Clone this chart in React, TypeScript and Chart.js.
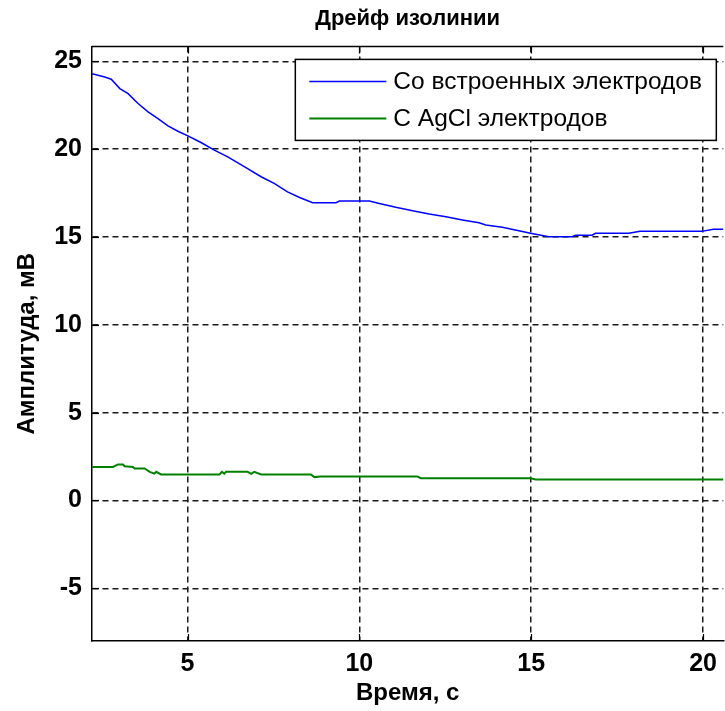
import React, { useEffect, useRef } from 'react';
import { Chart, registerables } from 'chart.js';

Chart.register(...registerables);

// ---- data ----
const TITLE = 'Дрейф изолинии';
const X_LABEL = 'Время, с';
const Y_LABEL = 'Амплитуда, мВ';
const SERIES_NAMES = ['Со встроенных электродов', 'С AgCl электродов'];
const SERIES_COLORS = ['#0000ff', '#008000'];
const X_TICKS = [5, 10, 15, 20];
const Y_TICKS = [-5, 0, 5, 10, 15, 20, 25];
const X_RANGE = [2.22, 20.59];
const Y_RANGE = [-8, 25.85];

const blueTime = [2.22, 2.59, 2.78, 3.03, 3.27, 3.56, 3.85, 4.14, 4.43, 4.72, 5.01, 5.39, 5.78, 6.17, 6.65, 7.14, 7.52, 7.91, 8.26, 8.64, 9.32, 9.42, 10.29, 10.58, 11.06, 11.55, 12.03, 12.52, 13.0, 13.48, 13.68, 14.16, 14.64, 14.98, 15.51, 16.19, 16.29, 16.77, 16.87, 17.84, 18.17, 19.96, 20.3, 20.6];
const blueAmp = [24.3, 24.11, 23.98, 23.45, 23.16, 22.6, 22.12, 21.74, 21.32, 21.02, 20.76, 20.38, 19.94, 19.56, 19.0, 18.43, 18.05, 17.57, 17.25, 16.95, 16.95, 17.05, 17.05, 16.91, 16.69, 16.49, 16.31, 16.15, 15.97, 15.81, 15.68, 15.55, 15.36, 15.21, 15.02, 15.02, 15.1, 15.1, 15.21, 15.21, 15.32, 15.32, 15.44, 15.44];

const greenTime = [2.22, 2.83, 2.98, 3.12, 3.17, 3.41, 3.46, 3.75, 3.9, 4.04, 4.09, 4.23, 5.93, 6.0, 6.07, 6.12, 6.75, 6.85, 6.94, 7.14, 8.59, 8.69, 8.88, 11.69, 11.79, 14.98, 15.13, 20.6];
const greenAmp = [1.91, 1.91, 2.05, 2.05, 1.95, 1.91, 1.82, 1.82, 1.63, 1.53, 1.63, 1.48, 1.48, 1.63, 1.53, 1.63, 1.63, 1.52, 1.63, 1.48, 1.48, 1.33, 1.36, 1.36, 1.27, 1.27, 1.19, 1.19];

const FONT = "'Liberation Sans', Arial, sans-serif";

const toPoints = (xs: number[], ys: number[]) => xs.map((x, i) => ({ x, y: ys[i] }));

const framePlugin = {
  id: 'matlabFrame',
  afterDatasetsDraw(chart: any) {
    const { ctx, chartArea: a, scales } = chart;
    ctx.save();
    ctx.strokeStyle = '#000';
    ctx.lineWidth = 1.5;
    ctx.setLineDash([]);
    // top border
    ctx.beginPath();
    ctx.moveTo(a.left, a.top);
    ctx.lineTo(a.right, a.top);
    ctx.stroke();
    // inward tick marks
    ctx.lineWidth = 1.2;
    const tl = 7;
    X_TICKS.forEach((v) => {
      const px = Math.round(scales.x.getPixelForValue(v)) + 0.5;
      ctx.beginPath();
      ctx.moveTo(px, a.top);
      ctx.lineTo(px, a.top + tl);
      ctx.moveTo(px, a.bottom);
      ctx.lineTo(px, a.bottom - tl);
      ctx.stroke();
    });
    Y_TICKS.forEach((v) => {
      const py = Math.round(scales.y.getPixelForValue(v)) + 0.5;
      ctx.beginPath();
      ctx.moveTo(a.left, py);
      ctx.lineTo(a.left + tl, py);
      ctx.stroke();
    });
    // legend box
    const bw = 421;
    const bh = 81;
    const bx = a.right - 7 - bw;
    const by = a.top + 13;
    ctx.fillStyle = '#fff';
    ctx.fillRect(bx, by, bw, bh);
    ctx.lineWidth = 1.5;
    ctx.strokeStyle = '#000';
    ctx.strokeRect(bx, by, bw, bh);
    const rows = [by + 22, by + 59];
    ctx.font = `24.5px ${FONT}`;
    ctx.textBaseline = 'middle';
    ctx.textAlign = 'left';
    chart.data.datasets.forEach((ds: any, i: number) => {
      const ry = rows[i];
      ctx.strokeStyle = ds.borderColor;
      ctx.lineWidth = ds.borderWidth;
      ctx.beginPath();
      ctx.moveTo(bx + 14, ry);
      ctx.lineTo(bx + 91, ry);
      ctx.stroke();
      ctx.fillStyle = '#000';
      ctx.fillText(ds.label, bx + 98, ry + 1);
    });
    ctx.restore();
  },
};

export default function App() {
  const ref = useRef<HTMLCanvasElement | null>(null);

  useEffect(() => {
    if (!ref.current) return;
    const chart = new Chart(ref.current, {
      type: 'line',
      data: {
        datasets: [
          {
            label: SERIES_NAMES[0],
            data: toPoints(blueTime, blueAmp),
            borderColor: SERIES_COLORS[0],
            borderWidth: 1.5,
            pointRadius: 0,
            tension: 0,
          },
          {
            label: SERIES_NAMES[1],
            data: toPoints(greenTime, greenAmp),
            borderColor: SERIES_COLORS[1],
            borderWidth: 2,
            pointRadius: 0,
            tension: 0,
          },
        ],
      },
      options: {
        animation: false,
        responsive: false,
        layout: { padding: 0 },
        plugins: {
          legend: { display: false },
          tooltip: { enabled: false },
          title: {
            display: true,
            fullSize: false,
            text: TITLE,
            color: '#000',
            font: { size: 22, weight: 'bold', family: FONT },
            padding: { top: 6, bottom: 14 },
          },
        },
        scales: {
          x: {
            type: 'linear',
            min: X_RANGE[0],
            max: X_RANGE[1],
            afterBuildTicks: (s: any) => {
              s.ticks = X_TICKS.map((v) => ({ value: v }));
            },
            afterFit: (s: any) => {
              s.height = 70;
            },
            grid: { color: '#1a1a1a', lineWidth: 1.5, drawTicks: false },
            border: { display: true, color: '#000', width: 1.5, dash: [6, 4] },
            ticks: {
              color: '#000',
              padding: 8,
              font: { size: 25, weight: 'bold', family: FONT },
              maxRotation: 0,
            },
            title: {
              display: true,
              text: X_LABEL,
              color: '#000',
              font: { size: 24, weight: 'bold', family: FONT },
              padding: { top: 0, bottom: 3 },
            },
          },
          y: {
            type: 'linear',
            min: Y_RANGE[0],
            max: Y_RANGE[1],
            afterBuildTicks: (s: any) => {
              s.ticks = Y_TICKS.map((v) => ({ value: v }));
            },
            afterFit: (s: any) => {
              s.width = 92;
            },
            grid: { color: '#1a1a1a', lineWidth: 1.5, drawTicks: false },
            border: { display: true, color: '#000', width: 1.5, dash: [6, 4] },
            ticks: {
              color: '#000',
              padding: 10,
              font: { size: 25, weight: 'bold', family: FONT },
            },
            title: {
              display: true,
              text: Y_LABEL,
              color: '#000',
              font: { size: 24, weight: 'bold', family: FONT },
              padding: { top: 13, bottom: 0 },
            },
          },
        },
      },
      plugins: [framePlugin],
    } as any);
    return () => chart.destroy();
  }, []);

  return (
    <div style={{ position: 'fixed', left: 0, top: 0, width: 725, height: 711, background: '#fff' }}>
      <canvas ref={ref} width={725} height={711} style={{ display: 'block' }} />
    </div>
  );
}
